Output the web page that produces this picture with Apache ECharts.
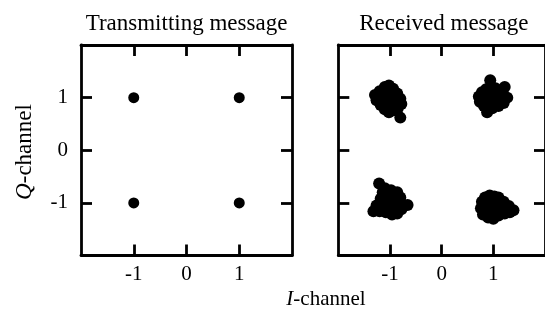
<!DOCTYPE html>
<html lang="en">
<head>
  <meta charset="UTF-8">
  <title>QPSK constellation</title>
  <script src="https://cdn.jsdelivr.net/npm/echarts@6/dist/echarts.min.js"></script>
  <style>
    html, body { margin: 0; padding: 0; background: #fff; }
    #chart { width: 545px; height: 311px; }
  </style>
</head>
<body>
<div id="chart"></div>
<script>
// panel titles and axis names
const panelTitles = ['Transmitting message', 'Received message'];
const tickValues = [-1, 0, 1];

// ideal constellation points
const sentPoints = [[-1, 1], [1, 1], [-1, -1], [1, -1]];

// received clusters
const recvTopLeft = [
  [-1.29, 1.05], [-1.26, 0.95], [-1.20, 1.12], [-1.10, 1.20], [-1.02, 1.23], [-0.94, 1.17],
  [-0.86, 1.08], [-0.80, 0.98], [-0.78, 0.88], [-0.85, 0.80], [-0.93, 0.76], [-1.02, 0.72],
  [-1.10, 0.78], [-1.18, 0.86], [-1.08, 1.00], [-0.98, 0.96], [-1.12, 0.92], [-1.00, 1.08],
  [-0.92, 0.88], [-1.05, 0.88], [-0.80, 0.62], [-0.90, 1.00]
];
const recvTopRight = [
  [0.94, 1.33], [1.22, 1.20], [0.72, 1.02], [0.74, 0.92], [0.78, 1.10], [0.86, 1.16],
  [1.04, 1.18], [1.27, 1.00], [1.20, 0.90], [1.10, 0.84], [0.98, 0.80], [0.88, 0.72],
  [0.82, 0.84], [0.92, 1.00], [1.02, 1.04], [1.12, 1.06], [0.96, 0.90], [1.06, 0.94],
  [0.86, 1.04], [1.16, 1.12], [0.80, 0.98], [1.00, 1.12]
];
const recvBottomLeft = [
  [-1.21, -0.63], [-1.10, -0.72], [-0.98, -0.76], [-0.86, -0.80], [-0.80, -0.90], [-0.66, -1.04],
  [-0.84, -1.00], [-0.78, -1.12], [-0.86, -1.20], [-0.96, -1.22], [-1.08, -1.18], [-1.20, -1.16],
  [-1.32, -1.16], [-1.26, -1.05], [-1.18, -0.92], [-1.14, -0.80], [-1.04, -0.88], [-0.94, -0.96],
  [-1.06, -1.04], [-0.92, -1.08], [-1.16, -1.02], [-1.00, -0.80]
];
const recvBottomRight = [
  [0.93, -0.86], [0.84, -0.90], [0.78, -0.98], [0.76, -1.10], [0.80, -1.22], [0.90, -1.28],
  [1.00, -1.30], [1.10, -1.24], [1.22, -1.20], [1.32, -1.18], [1.39, -1.14], [1.30, -1.06],
  [1.20, -0.98], [1.10, -0.90], [1.02, -0.88], [0.90, -1.00], [1.00, -1.04], [1.10, -1.08],
  [0.94, -1.16], [1.04, -1.16], [0.86, -1.12], [1.16, -1.10]
];

const FONT = "'Liberation Serif', 'DejaVu Serif', serif";
const LW = 2.8;

function makeAxis(kind, gridIndex, position, showLabels) {
  return {
    type: 'value',
    gridIndex: gridIndex,
    position: position,
    min: -2, max: 2, interval: 1,
    axisLine: { show: true, onZero: false, lineStyle: { color: '#000', width: LW } },
    axisTick: { show: true, inside: true, length: 11, customValues: tickValues,
      lineStyle: { color: '#000', width: LW } },
    axisLabel: { show: showLabels, customValues: tickValues, color: '#000',
      fontFamily: FONT, fontSize: 21, margin: kind === 'x' ? 8 : 13 },
    splitLine: { show: false }
  };
}

const chart = echarts.init(document.getElementById('chart'));
chart.setOption({
  animation: false,
  backgroundColor: '#fff',
  grid: [
    { left: 81, top: 45, width: 211, height: 210.5 },
    { left: 338.3, top: 45, width: 211, height: 210.5 }
  ],
  xAxis: [
    makeAxis('x', 0, 'bottom', true),
    makeAxis('x', 0, 'top', false),
    makeAxis('x', 1, 'bottom', true),
    makeAxis('x', 1, 'top', false)
  ],
  yAxis: [
    makeAxis('y', 0, 'left', true),
    makeAxis('y', 0, 'right', false),
    makeAxis('y', 1, 'left', false),
    makeAxis('y', 1, 'right', false)
  ],
  graphic: [
    { type: 'text', x: 186.5, y: 23.5, style: { text: panelTitles[0], fill: '#000',
      fontFamily: FONT, fontSize: 23, align: 'center', verticalAlign: 'middle' } },
    { type: 'text', x: 443.8, y: 23.5, style: { text: panelTitles[1], fill: '#000',
      fontFamily: FONT, fontSize: 23, align: 'center', verticalAlign: 'middle' } },
    { type: 'text', x: 25, y: 152, rotation: Math.PI / 2, style: {
      text: '{i|Q}-channel', fill: '#000', fontFamily: FONT, fontSize: 23,
      align: 'center', verticalAlign: 'middle',
      rich: { i: { fontStyle: 'italic', fontFamily: FONT, fontSize: 23, fill: '#000' } } } },
    { type: 'text', x: 326, y: 299, style: {
      text: '{i|I}-channel', fill: '#000', fontFamily: FONT, fontSize: 21,
      align: 'center', verticalAlign: 'middle',
      rich: { i: { fontStyle: 'italic', fontFamily: FONT, fontSize: 21, fill: '#000' } } } }
  ],
  series: [
    { type: 'scatter', xAxisIndex: 0, yAxisIndex: 0, data: sentPoints,
      symbolSize: 11, itemStyle: { color: '#000', opacity: 1 } },
    { type: 'scatter', xAxisIndex: 2, yAxisIndex: 2,
      data: recvTopLeft.concat(recvTopRight, recvBottomLeft, recvBottomRight),
      symbolSize: 12, itemStyle: { color: '#000', opacity: 1 } }
  ]
});
</script>
</body>
</html>
